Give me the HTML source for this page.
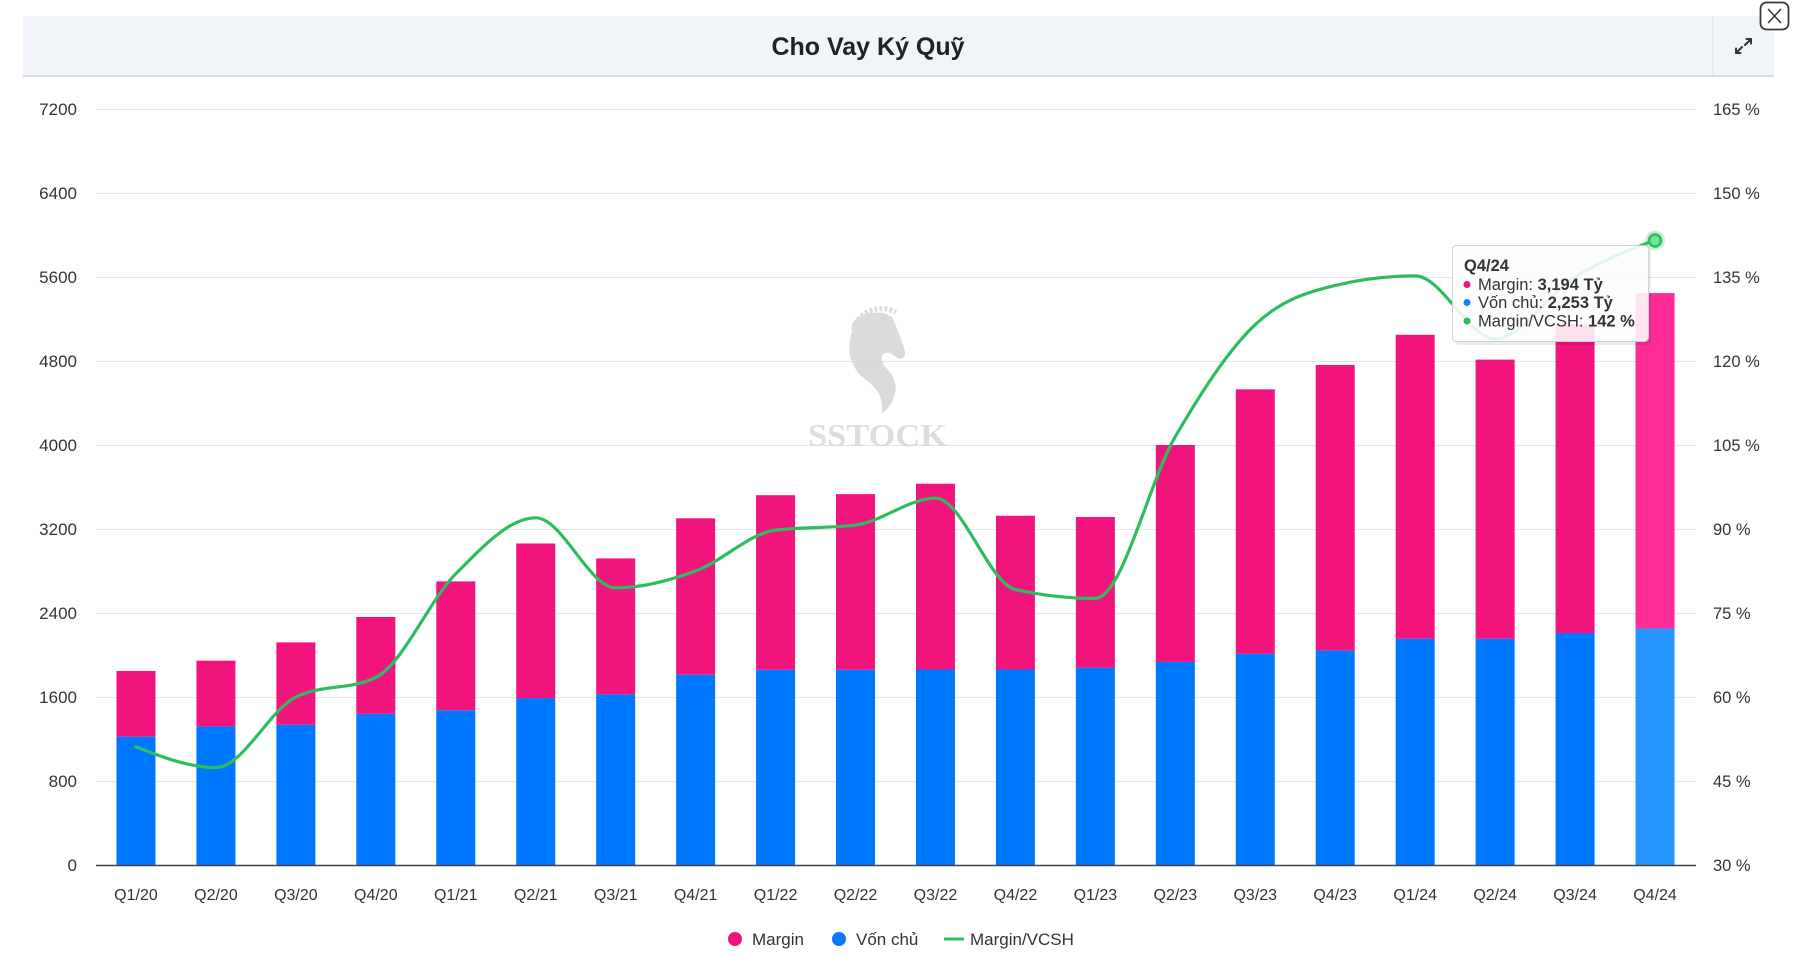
<!DOCTYPE html>
<html>
<head>
<meta charset="utf-8">
<style>
  html,body{margin:0;padding:0;background:#fff;}
  body{width:1802px;height:956px;overflow:hidden;}
  svg{display:block;font-family:"Liberation Sans","Noto Sans CJK SC",sans-serif;}
</style>
</head>
<body>
<svg id="c" width="1802" height="956" viewBox="0 0 1802 956" xmlns="http://www.w3.org/2000/svg">
  <!-- header -->
  <rect x="23" y="16" width="1751" height="60" fill="#f1f4f8"/>
  <rect x="23" y="75" width="1751" height="2" fill="#d7dce3"/>
  <rect x="1712.5" y="16" width="1" height="59" fill="#dde1e7"/>
  <text x="868" y="55" text-anchor="middle" font-size="25" font-weight="bold" fill="#222">Cho Vay Ký Quỹ</text>
  <!-- expand icon -->
  <g stroke="#333" stroke-width="2" fill="none" stroke-linecap="round" stroke-linejoin="round">
    <line x1="1745" y1="45" x2="1751" y2="39"/>
    <polyline points="1746.5,39 1751,39 1751,43.5"/>
    <line x1="1742" y1="47" x2="1736" y2="53"/>
    <polyline points="1736,48.5 1736,53 1740.5,53"/>
  </g>
  <!-- close button -->
  <rect x="1760.5" y="2.5" width="28" height="27" rx="6" fill="#fff" stroke="#3a3a3a" stroke-width="1.8"/>
  <g stroke="#3a3a3a" stroke-width="1.6" stroke-linecap="round">
    <line x1="1768.5" y1="9.5" x2="1780.5" y2="22.5"/>
    <line x1="1780.5" y1="9.5" x2="1768.5" y2="22.5"/>
  </g>

  <g id="grid"></g>

  <!-- watermark -->
  <g opacity="0.9">
    <path d="M852,332 C849,318 864,311 884,313 L892,317 C897,328 902,340 905,352 C906,358 900,361 896,357 L890,353 C881,351 878,360 888,370 C900,383 898,400 882,414 C884,400 878,388 866,380 C852,370 845,351 852,332 Z" fill="#d8d8d8"/>
    <path d="M858,320 C866,308 884,306 896,312" stroke="#d8d8d8" stroke-width="5" fill="none" stroke-dasharray="3 2"/>
    <text x="808" y="446" font-family="'Liberation Serif',serif" font-weight="bold" font-size="32" fill="#dadada" textLength="139" lengthAdjust="spacingAndGlyphs">SSTOCK</text>
  </g>

  <g id="bars"></g>
  <line x1="96" y1="865.5" x2="1696" y2="865.5" stroke="#444" stroke-width="1.6"/>
  <g id="labels" font-size="17" fill="#333"></g>
  <path id="ln" d="" fill="none" stroke="#2cbd5e" stroke-width="3.2" stroke-linejoin="round" stroke-linecap="round"/>

  <!-- tooltip -->
  <g>
    <rect x="1455" y="248" width="196" height="97" rx="4" fill="#000" opacity="0.08"/>
    <rect x="1452.5" y="245.5" width="196" height="96" rx="4" fill="#ffffff" fill-opacity="0.88" stroke="#d0d0d0" stroke-width="1"/>
    <text x="1464" y="271" font-size="16.5" font-weight="bold" fill="#333">Q4/24</text>
    <circle cx="1467" cy="284.5" r="3.5" fill="#f0147c"/>
    <text x="1478" y="290" font-size="16.5" fill="#333">Margin: <tspan font-weight="bold">3,194 Tỷ</tspan></text>
    <circle cx="1467" cy="302.5" r="3.5" fill="#1a7cff"/>
    <text x="1478" y="308" font-size="16.5" fill="#333">Vốn chủ: <tspan font-weight="bold">2,253 Tỷ</tspan></text>
    <circle cx="1467" cy="321" r="3.5" fill="#2cbd5e"/>
    <text x="1478" y="326.5" font-size="16.5" fill="#333">Margin/VCSH: <tspan font-weight="bold">142 %</tspan></text>
  </g>
  <!-- hover marker -->
  <circle cx="1655" cy="240.5" r="10" fill="#2cbd5e" opacity="0.25"/>
  <circle cx="1655" cy="240.5" r="6" fill="#6fe39a" stroke="#2cbd5e" stroke-width="2.5"/>

  <!-- legend -->
  <circle cx="735" cy="939" r="7" fill="#f0147c"/>
  <text x="752" y="945" font-size="17" fill="#333">Margin</text>
  <circle cx="839" cy="939" r="7" fill="#0a77ff"/>
  <text x="856" y="945" font-size="17" fill="#333">Vốn chủ</text>
  <line x1="944" y1="939" x2="964" y2="939" stroke="#2cbd5e" stroke-width="3"/>
  <text x="970" y="945" font-size="17" fill="#333">Margin/VCSH</text>
</svg>
<script>
(function(){
  var NS="http://www.w3.org/2000/svg";
  function el(tag,attrs,parent,txt){var e=document.createElementNS(NS,tag);for(var k in attrs)e.setAttribute(k,attrs[k]);if(txt!=null)e.textContent=txt;parent.appendChild(e);return e;}
  var grid=document.getElementById('grid'),bars=document.getElementById('bars'),labels=document.getElementById('labels');
  var y0=865, step=84, L=96, W=79.95, ky=0.105;
  var pctLab=['30 %','45 %','60 %','75 %','90 %','105 %','120 %','135 %','150 %','165 %'];
  for(var k=0;k<=9;k++){
    var y=y0-k*step;
    if(k>0) el('line',{x1:96,y1:y+0.5,x2:1696,y2:y+0.5,stroke:'#e5e5e5','stroke-width':1},grid);
    el('text',{x:77,y:y+6,'text-anchor':'end','font-size':17},labels,String(k*800));
    el('text',{x:1713,y:y+6,'font-size':16.5},labels,pctLab[k]);
  }
  var cats=['Q1/20','Q2/20','Q3/20','Q4/20','Q1/21','Q2/21','Q3/21','Q4/21','Q1/22','Q2/22','Q3/22','Q4/22','Q1/23','Q2/23','Q3/23','Q4/23','Q1/24','Q2/24','Q3/24','Q4/24'];
  var tot=[1848,1946,2120,2362,2701,3062,2920,3302,3522,3532,3631,3326,3314,4000,4530,4762,5050,4813,5150,5447];
  var blu=[1222,1320,1335,1440,1474,1590,1625,1812,1859,1859,1862,1862,1880,1934,2011,2044,2154,2154,2209,2253];
  var pct=[51.1,47.4,60,63.5,82,92,79.5,82.5,89.8,90.7,95.5,79.2,77.6,106.5,126.5,133.5,135.2,124,135,141.6];
  var pts=[];
  for(var i=0;i<cats.length;i++){
    var cx=L+W*(i+0.5), bx=cx-19.5;
    var hov=(i===19);
    var bh=blu[i]*ky, th=tot[i]*ky;
    el('rect',{x:bx,y:y0-bh,width:39,height:bh,fill:hov?'#2594ff':'#0077ff'},bars);
    el('rect',{x:bx,y:y0-th,width:39,height:th-bh,fill:hov?'#ff2b95':'#f0147c'},bars);
    el('text',{x:cx,y:900,'text-anchor':'middle','font-size':16},labels,cats[i]);
    pts.push([cx,y0-(pct[i]-30)*5.6]);
  }
  var n=pts.length,h=[],s=[],t=[];
  for(i=0;i<n-1;i++){h[i]=pts[i+1][0]-pts[i][0];s[i]=(pts[i+1][1]-pts[i][1])/h[i];}
  function sg(v){return v>0?1:(v<0?-1:0);}
  for(i=1;i<n-1;i++){var s0=s[i-1],s1=s[i],h0=h[i-1],h1=h[i];var p=(s0*h1+s1*h0)/(h0+h1);t[i]=(sg(s0)+sg(s1))*Math.min(Math.abs(s0),Math.abs(s1),0.5*Math.abs(p))||0;}
  t[0]=(3*s[0]-t[1])/2; t[n-1]=(3*s[n-2]-t[n-2])/2;
  var d='M'+pts[0][0].toFixed(2)+','+pts[0][1].toFixed(2);
  for(i=0;i<n-1;i++){var dx=h[i]/3;
    d+=' C'+(pts[i][0]+dx).toFixed(2)+','+(pts[i][1]+dx*t[i]).toFixed(2)+' '+(pts[i+1][0]-dx).toFixed(2)+','+(pts[i+1][1]-dx*t[i+1]).toFixed(2)+' '+pts[i+1][0].toFixed(2)+','+pts[i+1][1].toFixed(2);}
  document.getElementById('ln').setAttribute('d',d);
})();
</script>
</body>
</html>
